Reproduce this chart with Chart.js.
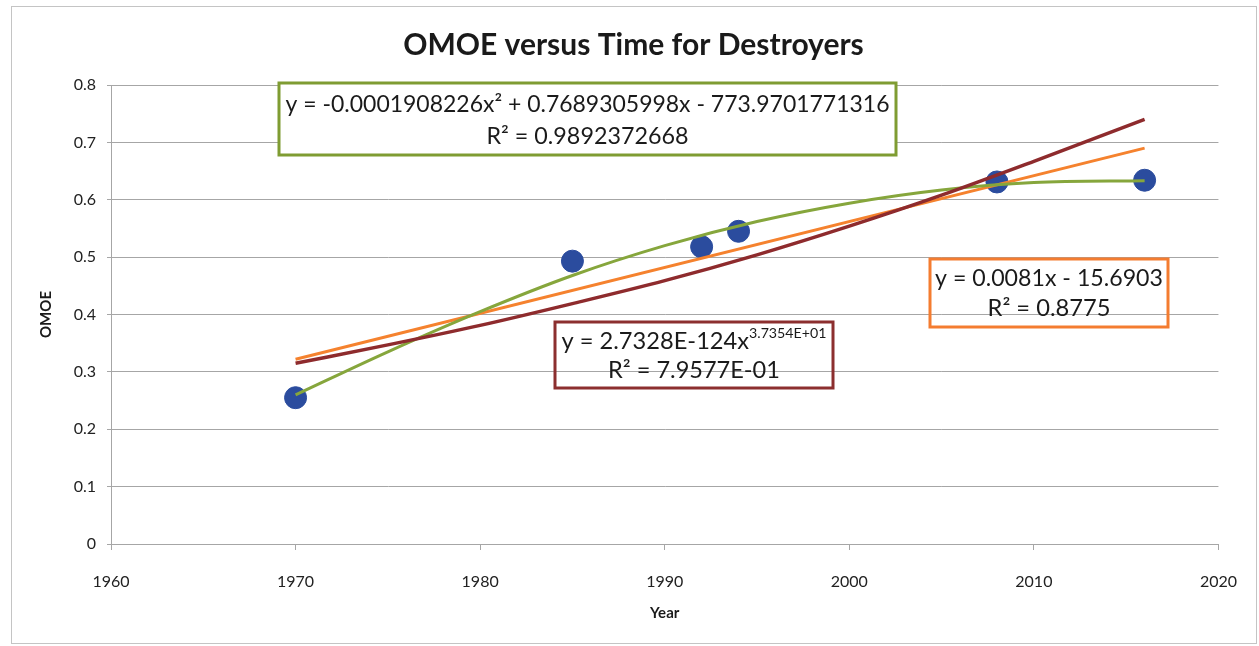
<!DOCTYPE html>
<html>
<head>
<meta charset="utf-8">
<title>OMOE versus Time for Destroyers</title>
<script src="https://cdn.jsdelivr.net/npm/chart.js@4.4.0/dist/chart.umd.min.js"></script>
<style>
  html, body { margin: 0; padding: 0; background: #fff; }
  #wrap { width: 1259px; height: 646px; position: relative; }
</style>
</head>
<body>
<div id="wrap"><canvas id="chart"></canvas></div>
<script>
// data
const pointYears = [1970, 1985, 1992, 1994, 2008, 2016];
const pointOmoe = [0.255, 0.493, 0.518, 0.545, 0.631, 0.634];

const fitYears = [1970, 1975, 1980, 1985, 1990, 1995, 2000, 2005, 2010, 2016];
const polyFit = [0.26, 0.335, 0.405, 0.468, 0.52, 0.562, 0.594, 0.617, 0.63, 0.633];
const powerFit = [0.315, 0.347, 0.381, 0.419, 0.459, 0.504, 0.554, 0.608, 0.667, 0.74];

const linYears = [1970, 2016];
const linFit = [0.322, 0.69];

const xTicks = [1960, 1970, 1980, 1990, 2000, 2010, 2020];
const yTicks = [0, 0.1, 0.2, 0.3, 0.4, 0.5, 0.6, 0.7, 0.8];

const FONT = "Lato, 'Open Sans', sans-serif";
const GRID = "#a6a6a6";

function pairs(xs, ys) {
    return xs.map((x, i) => ({ x: x, y: ys[i] }));
}

// font size so the text fills a given width
function fitFont(ctx, text, width, weight) {
    ctx.font = weight + " 100px " + FONT;
    const w = ctx.measureText(text).width;
    return 100 * width / w;
}

// trendline label boxes (pixel positions on the canvas)
const labelBoxes = [
    { x0: 279, y0: 83, x1: 896, y1: 155, color: "#7f9c32", fill: "#ffffff",
      lines: [{ text: "y = -0.0001908226x² + 0.7689305998x - 773.9701771316", y: 105, w: 604 },
              { text: "R² = 0.9892372668", y: 136, w: 202 }] },
    { x0: 930, y0: 259, x1: 1168, y1: 327, color: "#f47c30", fill: null,
      lines: [{ text: "y = 0.0081x - 15.6903", y: 279, w: 228 },
              { text: "R² = 0.8775", y: 308, w: 123 }] },
    { x0: 555, y0: 322, x1: 833, y1: 388, color: "#8c2f2f", fill: null,
      lines: [{ text: "y = 2.7328E-124x", sup: "3.7354E+01", y: 341, w: 265 },
              { text: "R² = 7.9577E-01", y: 370, w: 172 }] }
];

const boxPlugin = {
    id: "boxes",
    beforeDraw(chart) {
        const ctx = chart.ctx;
        ctx.save();
        ctx.strokeStyle = "#c4c4c4";
        ctx.lineWidth = 1;
        ctx.strokeRect(11.5, 6.5, 1245, 637);
        ctx.restore();
    },
    afterDatasetsDraw(chart) {
        const ctx = chart.ctx;
        ctx.save();
        labelBoxes.forEach(b => {
            if (b.fill) {
                ctx.fillStyle = b.fill;
                ctx.fillRect(b.x0, b.y0, b.x1 - b.x0, b.y1 - b.y0);
            }
            ctx.strokeStyle = b.color;
            ctx.lineWidth = 3;
            ctx.strokeRect(b.x0, b.y0, b.x1 - b.x0, b.y1 - b.y0);
            const cx = (b.x0 + b.x1) / 2;
            ctx.fillStyle = "#1a1a1a";
            ctx.textBaseline = "middle";
            b.lines.forEach(l => {
                if (l.sup) {
                    // main text plus raised exponent
                    ctx.font = "100px " + FONT;
                    const wm = ctx.measureText(l.text).width;
                    ctx.font = "60px " + FONT;
                    const ws = ctx.measureText(l.sup).width;
                    const size = 100 * l.w / (wm + ws);
                    ctx.font = size + "px " + FONT;
                    const w1 = ctx.measureText(l.text).width;
                    ctx.font = (size * 0.6) + "px " + FONT;
                    const w2 = ctx.measureText(l.sup).width;
                    const left = cx - (w1 + w2) / 2;
                    ctx.textAlign = "left";
                    ctx.font = size + "px " + FONT;
                    ctx.fillText(l.text, left, l.y);
                    ctx.font = (size * 0.6) + "px " + FONT;
                    ctx.fillText(l.sup, left + w1, l.y - size * 0.3);
                } else {
                    const size = fitFont(ctx, l.text, l.w, "normal");
                    ctx.font = size + "px " + FONT;
                    ctx.textAlign = "center";
                    ctx.fillText(l.text, cx, l.y);
                }
            });
        });
        ctx.restore();
    }
};

const ctx = document.getElementById("chart").getContext("2d");
new Chart(ctx, {
    type: "scatter",
    data: {
        datasets: [
            {
                label: "Destroyers",
                data: pairs(pointYears, pointOmoe),
                backgroundColor: "#2b4c9e",
                borderColor: "#2b4c9e",
                pointRadius: 11,
                pointHoverRadius: 11,
                order: 4
            },
            {
                label: "Linear",
                type: "line",
                data: pairs(linYears, linFit),
                borderColor: "#f5822e",
                borderWidth: 3,
                pointRadius: 0,
                fill: false,
                order: 3
            },
            {
                label: "Poly. (2)",
                type: "line",
                data: pairs(fitYears, polyFit),
                borderColor: "#86a63c",
                borderWidth: 3,
                pointRadius: 0,
                cubicInterpolationMode: "monotone",
                fill: false,
                order: 2
            },
            {
                label: "Power",
                type: "line",
                data: pairs(fitYears, powerFit),
                borderColor: "#8e2b2d",
                borderWidth: 3.5,
                pointRadius: 0,
                cubicInterpolationMode: "monotone",
                fill: false,
                order: 1
            }
        ]
    },
    options: {
        responsive: true,
        maintainAspectRatio: false,
        animation: false,
        layout: { padding: { left: 11, right: 3, top: 0, bottom: 12 } },
        plugins: {
            legend: { display: false },
            tooltip: { enabled: false },
            title: {
                display: true,
                text: "OMOE versus Time for Destroyers",
                color: "#1a1a1a",
                font: { family: FONT, size: 30, weight: "bold" },
                padding: { top: 27, bottom: 22 }
            }
        },
        scales: {
            x: {
                type: "linear",
                min: 1960,
                max: 2020,
                afterBuildTicks: s => { s.ticks = xTicks.map(v => ({ value: v })); },
                afterFit: s => { s.height = 90; },
                grid: { drawOnChartArea: false, tickLength: 6, color: GRID },
                border: { color: GRID },
                ticks: {
                    color: "#222",
                    padding: 22,
                    maxRotation: 0,
                    font: { family: FONT, size: 16 },
                    callback: v => String(v)
                },
                title: {
                    display: true,
                    text: "Year",
                    color: "#1a1a1a",
                    font: { family: FONT, size: 15, weight: "bold" },
                    padding: { top: 0, bottom: 12 }
                }
            },
            y: {
                min: 0,
                max: 0.8,
                afterBuildTicks: s => { s.ticks = yTicks.map(v => ({ value: v })); },
                afterFit: s => { s.width = 100; },
                grid: { color: GRID, tickLength: 4 },
                border: { color: GRID },
                ticks: {
                    color: "#222",
                    padding: 11,
                    font: { family: FONT, size: 16 },
                    callback: v => v === 0 ? "0" : v.toFixed(1)
                },
                title: {
                    display: true,
                    text: "OMOE",
                    color: "#1a1a1a",
                    font: { family: FONT, size: 15, weight: "bold" },
                    padding: { top: 26, bottom: 0 }
                }
            }
        }
    },
    plugins: [boxPlugin]
});
</script>
</body>
</html>
